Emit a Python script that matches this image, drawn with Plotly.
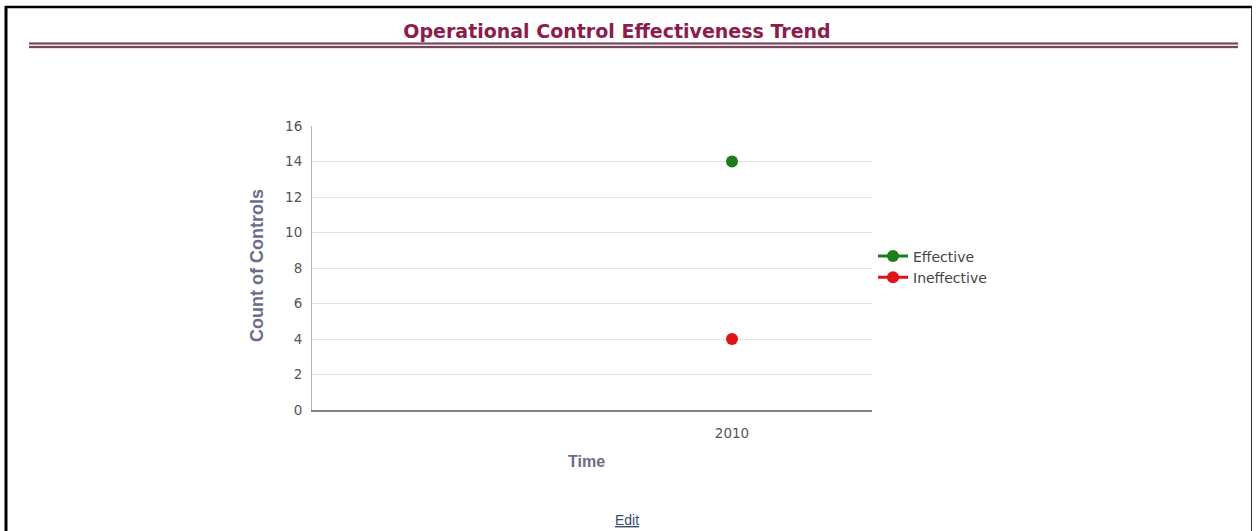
import plotly.graph_objects as go

# chart data
periods = ["2010"]
effective = [14]
ineffective = [4]

W, H = 1256, 531
PL, PR, PT, PB = 312, 872, 126, 410  # plot area, page pixels


def px_x(x):
    return (x - PL) / (PR - PL)


def px_y(y):
    return (PB - y) / (PB - PT)


fig = go.Figure()
fig.add_trace(go.Scatter(
    x=periods, y=effective, name="Effective", mode="lines+markers",
    marker=dict(size=12, color="#1a7f1a"), line=dict(color="#1a7f1a", width=3)
))
fig.add_trace(go.Scatter(
    x=periods, y=ineffective, name="Ineffective", mode="lines+markers",
    marker=dict(size=12, color="#e01414"), line=dict(color="#e01414", width=3)
))

# page frame and double rule under the title
shapes = [
    dict(type="line", x0=px_x(6), x1=px_x(6), y0=px_y(6), y1=px_y(560), line=dict(color="#000", width=3)),
    dict(type="line", x0=px_x(5), x1=px_x(1252), y0=px_y(7), y1=px_y(7), line=dict(color="#000", width=2.5)),
    dict(type="line", x0=px_x(1251.5), x1=px_x(1251.5), y0=px_y(7), y1=px_y(560), line=dict(color="#333", width=1)),
    dict(type="rect", x0=px_x(29), x1=px_x(1238), y0=px_y(42), y1=px_y(49), line=dict(width=0), fillcolor="#f7dbe6"),
    dict(type="line", x0=px_x(29), x1=px_x(1238), y0=px_y(43.5), y1=px_y(43.5), line=dict(color="#6e4a5c", width=2)),
    dict(type="line", x0=px_x(29), x1=px_x(1238), y0=px_y(47), y1=px_y(47), line=dict(color="#6e4a5c", width=2)),
]
for s in shapes:
    s.update(xref="paper", yref="paper", layer="below")

axis_font = dict(family="Liberation Sans, Arial", size=18, color="#6b6b8a", weight="bold")
annotations = [
    dict(text="Count of Controls", x=px_x(257), y=px_y(266), textangle=-90, showarrow=False,
         xanchor="center", yanchor="middle", font=axis_font),
    dict(text="Time", x=px_x(586), y=px_y(461), showarrow=False, xanchor="center", yanchor="middle",
         font=dict(axis_font, size=16)),
    dict(text="<u>Edit</u>", x=px_x(627), y=px_y(520), showarrow=False, xanchor="center", yanchor="middle",
         font=dict(family="Liberation Sans, Arial", size=14, color="#3b4a6b")),
]
for a in annotations:
    a.update(xref="paper", yref="paper")

tick_font = dict(family="DejaVu Sans", size=13.5, color="#555")

fig.update_layout(
    width=W, height=H,
    margin=dict(l=PL, r=W - PR, t=PT, b=H - PB),
    paper_bgcolor="white", plot_bgcolor="white",
    title=dict(
        text="Operational Control Effectiveness Trend",
        x=617 / W, xanchor="center", y=1 - 31 / H, yanchor="middle",
        font=dict(family="DejaVu Sans", size=19, color="#8c1c4c", weight="bold"),
    ),
    showlegend=True,
    legend=dict(x=px_x(873), xanchor="left", y=px_y(267), yanchor="middle",
                font=dict(family="DejaVu Sans", size=14, color="#444"),
                itemwidth=30, tracegroupgap=0, bgcolor="rgba(0,0,0,0)"),
    xaxis=dict(
        type="category", range=[-1.5, 0.5], showgrid=False,
        showline=True, linecolor="#7f7f7f", linewidth=2,
        ticks="outside", ticklen=10, tickcolor="rgba(0,0,0,0)",
        tickfont=tick_font, fixedrange=True,
    ),
    yaxis=dict(
        range=[0, 16], dtick=2, showgrid=True, gridcolor="#e3e3e3", gridwidth=1,
        showline=True, linecolor="#b5b5b5", linewidth=1, zeroline=False,
        ticks="outside", ticklen=6, tickcolor="rgba(0,0,0,0)",
        tickfont=tick_font, fixedrange=True,
    ),
    shapes=shapes,
    annotations=annotations,
)

# drop the default body margin so the figure sits at the page corner
fig.write_html("out.html", config={"displayModeBar": False},
               post_script="document.body.style.margin='0';")
